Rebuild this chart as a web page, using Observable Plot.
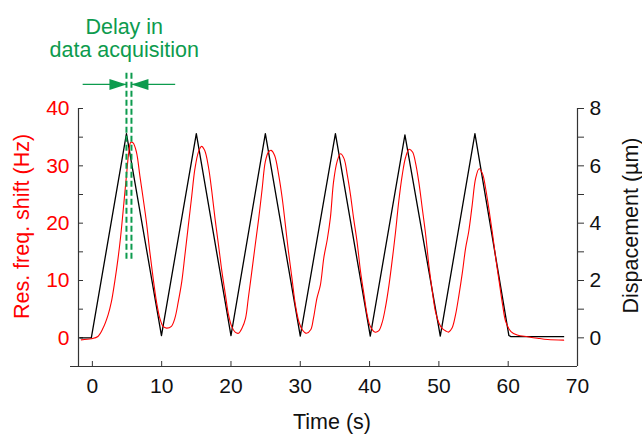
<!DOCTYPE html>
<html><head><meta charset="utf-8">
<script src="https://cdn.jsdelivr.net/npm/d3@7"></script>
<script src="https://cdn.jsdelivr.net/npm/@observablehq/plot@0.6"></script>
<style>body{margin:0;background:#fff} #chart svg{display:block}</style>
</head><body><div id="chart"></div>
<script>
// Displacement (µm) vs time (s) — black triangle wave
const dispTime = [-1.8, -0.15, 4.92, 9.97, 15.0, 20.0, 24.96, 30.0, 35.07, 40.1, 45.1, 50.2, 55.2, 60.1, 60.4, 68.0];
const dispUm   = [0, 0, 7.12, 0.08, 7.12, 0.08, 7.12, 0.06, 7.12, 0.06, 7.08, 0.06, 7.12, 0.08, 0.04, 0.04];

// Resonance frequency shift (Hz) vs time (s) — red
const freqTime = [-1.6,-0.15,0.8,1.55,2.27,2.75,3.23,3.71,4.1,4.43,4.92,5.26,5.55,5.88,6.36,6.85,7.33,7.8,8.29,8.77,9.25,9.74,10.2,10.7,11.4,11.9,12.4,12.9,13.35,13.8,14.3,14.8,15.3,15.75,16.2,16.75,17.25,17.7,18.2,18.7,19.2,19.65,20.1,20.6,21.1,21.6,22.1,22.5,23.0,23.5,24.0,24.5,24.95,25.4,25.8,26.3,26.9,27.4,27.85,28.3,28.8,29.3,29.8,30.3,30.9,31.5,31.9,32.4,32.9,33.4,33.9,34.35,34.8,35.3,35.8,36.3,36.8,37.25,37.7,38.2,38.7,39.2,39.65,40.1,40.75,41.3,41.8,42.3,42.8,43.3,43.75,44.2,44.7,45.2,45.7,46.2,46.6,47.1,47.6,48.1,48.55,49.05,49.5,50.0,50.5,51.0,51.4,51.9,52.4,52.9,53.4,53.85,54.3,54.8,55.3,55.8,56.3,56.75,57.2,57.7,58.2,58.7,59.2,59.65,60.4,61.3,62.8,64.2,65.7,68.0];
const freqHz   = [-0.35,-0.17,0.23,1.7,4.0,6.3,9.8,13.9,17.9,22.0,28.3,32.4,34.1,34.0,32.4,28.3,24.3,20.2,15.0,10.4,6.3,3.4,2.0,1.7,2.0,3.4,6.3,9.8,14.4,19.1,24.3,29.5,32.4,33.4,32.7,29.8,25.4,20.8,16.2,11.5,7.5,4.0,2.0,1.0,0.8,1.7,3.4,6.9,11.5,16.2,20.8,26.0,30.7,32.4,32.7,31.8,28.3,24.3,19.7,15.0,10.4,5.7,2.8,1.4,0.8,1.4,3.4,6.9,9.2,14.0,17.2,21.0,27.2,30.7,32.1,31.3,28.3,24.9,20.8,16.7,11.5,7.5,4.0,2.0,1.0,1.2,2.6,5.4,9.2,13.9,18.5,23.7,28.3,31.5,32.9,32.4,30.7,27.2,22.6,17.9,12.7,8.1,4.6,2.6,1.6,1.2,1.0,1.7,4.0,7.5,11.5,15.6,18.5,23.1,27.8,29.5,28.6,26.0,22.6,18.5,13.9,9.8,5.7,2.8,1.1,0.5,0.2,-0.06,-0.3,-0.4];

// Axes
const hzTicks = [0, 5, 10, 15, 20, 25, 30, 35, 40];
const umTicks = [0, 1, 2, 3, 4, 5, 6, 7, 8];
const timeTicks = [0, 10, 20, 30, 40, 50, 60, 70];
const hzPerUm = 5;

// Annotation: delay in data acquisition
const delayX = [4.92, 5.64];
const delayY1 = 13.7, delayY2 = 46.3;
const arrowY = 44.2;
const arrowFrom = [-1.4, 11.95];
const arrowTo = [4.92, 5.64];
const annotText = "Delay in\ndata acquisition";
const annotX = 4.6, annotY = 49.0;

const green = "#0d9b4e";
const axisColor = "#333";
const font = "Liberation Sans, Arial, Helvetica, sans-serif";
const fs = 21;
const fsTitle = 21.5;

const disp = dispTime.map((t, i) => ({t, v: dispUm[i] * hzPerUm}));
const freq = freqTime.map((t, i) => ({t, v: freqHz[i]}));
const arrows = arrowFrom.map((x1, i) => ({x1, x2: arrowTo[i]}));

const headRight = {draw(c) { c.moveTo(0, 0); c.lineTo(-17, -5.5); c.lineTo(-17, 5.5); c.closePath(); }};
const headLeft = {draw(c) { c.moveTo(0, 0); c.lineTo(17, -5.5); c.lineTo(17, 5.5); c.closePath(); }};

const plot = Plot.plot({
  width: 642, height: 434,
  marginLeft: 78, marginRight: 65, marginTop: 108, marginBottom: 68,
  style: {fontFamily: font, fontSize: fs + "px", background: "#fff", overflow: "visible"},
  x: {domain: [-2, 70]},
  y: {domain: [-5, 40]},
  marks: [
    // axis lines
    Plot.ruleX([-2], {y1: -5, y2: 40, stroke: axisColor, strokeWidth: 1.2}),
    Plot.ruleX([70], {y1: -5, y2: 40, stroke: axisColor, strokeWidth: 1.2}),
    Plot.ruleY([-5], {x1: -2, x2: 70, insetLeft: -8, stroke: axisColor, strokeWidth: 1.2}),
    // left axis (Hz), red labels, inward ticks
    Plot.axisY(hzTicks, {anchor: "left", tickSize: -5, tickPadding: 14, stroke: axisColor, fill: "#ff0000",
      tickFormat: d => d % 10 === 0 ? String(d) : "", fontSize: fs, label: null}),
    // right axis (µm)
    Plot.axisY(umTicks.map(d => d * hzPerUm), {anchor: "right", tickSize: 6, tickPadding: 6, stroke: axisColor, fill: "#111",
      tickFormat: d => (d / hzPerUm) % 2 === 0 ? String(d / hzPerUm) : "", fontSize: fs, label: null}),
    // bottom axis
    Plot.axisX(timeTicks, {anchor: "bottom", tickSize: -5, tickPadding: 17, stroke: axisColor, fill: "#111",
      fontSize: fs, label: null}),
    // axis titles
    Plot.text(["Time (s)"], {frameAnchor: "bottom", textAnchor: "middle", dx: 4, dy: 47, lineAnchor: "top", fontSize: fsTitle, fill: "#111"}),
    Plot.text(["Res. freq. shift (Hz)"], {frameAnchor: "left", textAnchor: "middle", lineAnchor: "middle", rotate: -90, dx: -56, dy: -11, fontSize: fsTitle, fill: "#ff0000"}),
    Plot.text(["Dispacement (µm)"], {frameAnchor: "right", textAnchor: "middle", lineAnchor: "middle", rotate: -90, dx: 54, dy: -12, fontSize: fsTitle, fill: "#111"}),
    // data
    Plot.line(disp, {x: "t", y: "v", stroke: "#000", strokeWidth: 1.3}),
    Plot.line(freq, {x: "t", y: "v", stroke: "#ff0000", strokeWidth: 1.1, curve: "catmull-rom"}),
    // annotation
    Plot.ruleX(delayX, {y1: delayY1, y2: delayY2, stroke: green, strokeWidth: 2, strokeDasharray: "6,3"}),
    Plot.link(arrows, {x1: "x1", x2: "x2", y1: arrowY, y2: arrowY, stroke: green, strokeWidth: 1.3}),
    Plot.dot([arrows[0]], {x: "x2", y: arrowY, symbol: headRight, fill: green, stroke: "none"}),
    Plot.dot([arrows[1]], {x: "x2", y: arrowY, symbol: headLeft, fill: green, stroke: "none"}),
    Plot.text([annotText], {x: annotX, y: annotY, lineAnchor: "bottom", lineHeight: 1.05, fontSize: fsTitle, fill: green})
  ]
});
document.getElementById("chart").appendChild(plot);
</script>
</body></html>
